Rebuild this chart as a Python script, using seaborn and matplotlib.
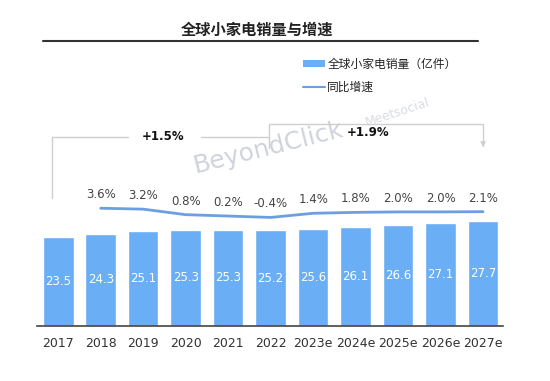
import numpy as np
import pandas as pd
import matplotlib
matplotlib.use("Agg")
import matplotlib.pyplot as plt
import matplotlib.transforms as mtransforms
from matplotlib.patches import Patch
from matplotlib.lines import Line2D
import seaborn as sns

# ---- data ----
years = ["2017", "2018", "2019", "2020", "2021", "2022", "2023e", "2024e", "2025e", "2026e", "2027e"]
sales = [23.5, 24.3, 25.1, 25.3, 25.3, 25.2, 25.6, 26.1, 26.6, 27.1, 27.7]
growth_years = ["2018", "2019", "2020", "2021", "2022", "2023e", "2024e", "2025e", "2026e", "2027e"]
growth = [3.6, 3.2, 0.8, 0.2, -0.4, 1.4, 1.8, 2.0, 2.0, 2.1]
growth_labels = ["3.6%", "3.2%", "0.8%", "0.2%", "-0.4%", "1.4%", "1.8%", "2.0%", "2.0%", "2.1%"]
cagr_spans = [("2017", "2022", "+1.5%"), ("2022", "2027e", "+1.9%")]
title = "全球小家电销量与增速"
legend_bar = "全球小家电销量（亿件）"
legend_line = "同比增速"

sns.set_theme(style="white")
plt.rcParams["font.family"] = ["DejaVu Sans", "Noto Sans CJK SC"]

W, H = 550, 381
fig = plt.figure(figsize=(W / 100, H / 100), dpi=100)

def fx(px):
    return px / W

def fy(py):
    return 1 - py / H

ax_left, ax_right, ax_top, ax_bot = 37, 503, 110, 326
ax = fig.add_axes([fx(ax_left), fy(ax_bot), (ax_right - ax_left) / W, (ax_bot - ax_top) / H])

bar_color = "#6aaef5"
line_color = "#6c9fe2"

df = pd.DataFrame({"year": years, "sales": sales})
sns.barplot(data=df, x="year", y="sales", color=bar_color, saturation=1, width=0.72, ax=ax)
ax.set_xlim(-0.5, 10.47)
ax.set_ylim(0, (ax_bot - ax_top) / 3.8)
ax.set_xlabel("")
ax.set_ylabel("")
ax.set_yticks([])
for s in ["top", "right", "left"]:
    ax.spines[s].set_visible(False)
ax.spines["bottom"].set_color("#444444")
ax.spines["bottom"].set_linewidth(1.2)
ax.tick_params(axis="x", length=0, pad=8, labelsize=9, labelcolor="#333333")

for i, v in enumerate(sales):
    ax.text(i, v / 2, f"{v}", ha="center", va="center", color="white", fontsize=8.5)

# growth line on twin axis
ax2 = ax.twinx()
pos = [years.index(y) for y in growth_years]
sns.lineplot(x=pos, y=growth, color=line_color, linewidth=2, ax=ax2)
ax2.set_ylim(-47.6, 46.3)
ax2.set_yticks([])
for s in ["top", "right", "left", "bottom"]:
    ax2.spines[s].set_visible(False)
for p, v, lab in zip(pos, growth, growth_labels):
    ax2.annotate(lab, (p, v), xytext=(0, 5), textcoords="offset points",
                 ha="center", va="bottom", fontsize=8.5, color="#444444")

# CAGR brackets (x in data coords, y in axes fraction)
trans = mtransforms.blended_transform_factory(ax.transData, ax.transAxes)
def ay(py):
    return (ax_bot - py) / (ax_bot - ax_top)

bracket_col = "#cfcfcf"
# left bracket
x0 = years.index(cagr_spans[0][0]) - 0.14
x1 = years.index(cagr_spans[0][1]) - 0.05
ax.plot([x0, x0, 1.65], [ay(198), ay(137), ay(137)], color=bracket_col, lw=1, transform=trans, clip_on=False)
ax.plot([3.35, x1], [ay(137), ay(137)], color=bracket_col, lw=1, transform=trans, clip_on=False)
ax.text(2.47, ay(137), cagr_spans[0][2], transform=trans, ha="center", va="center",
        fontsize=8.5, fontweight="bold", color="#111111")
# right bracket
x2 = years.index(cagr_spans[1][0]) - 0.05
x3 = years.index(cagr_spans[1][1])
ax.plot([x2, x2, x3, x3], [ay(148), ay(124), ay(124), ay(146)], color=bracket_col, lw=1,
        transform=trans, clip_on=False)
ax.annotate("", xy=(x3, ay(150)), xytext=(x3, ay(140)), xycoords=trans, textcoords=trans,
            arrowprops=dict(arrowstyle="-|>", color=bracket_col, lw=1, mutation_scale=7))
ax.text(7.3, ay(132), cagr_spans[1][2], transform=trans, ha="center", va="center",
        fontsize=8.5, fontweight="bold", color="#111111")

# watermarks
fig.text(fx(268), fy(148), "BeyondClick", rotation=14, ha="center", va="center",
         fontsize=18, color="#c3c8d2", alpha=0.8)
fig.text(fx(398), fy(112), "Meetsocial", rotation=18, ha="center", va="center",
         fontsize=9, color="#cfd3da", alpha=0.8)

# title and rule
fig.text(fx(257), fy(30), title, ha="center", va="center", fontsize=11, fontweight="bold",
         color="#222222")
fig.add_artist(Line2D([fx(43), fx(478)], [fy(41), fy(41)], color="#333333", lw=1.5))

# legend
handles = [Patch(facecolor=bar_color, edgecolor="none"),
           Line2D([0], [0], color=line_color, lw=1.5)]
fig.legend(handles, [legend_bar, legend_line], loc="upper left",
           bbox_to_anchor=(fx(292), fy(47)), frameon=False, fontsize=8.5,
           handlelength=1.9, handleheight=0.6, handletextpad=0.2, labelspacing=0.9,
           labelcolor="#222222")

fig.savefig("out.png", dpi=100)
